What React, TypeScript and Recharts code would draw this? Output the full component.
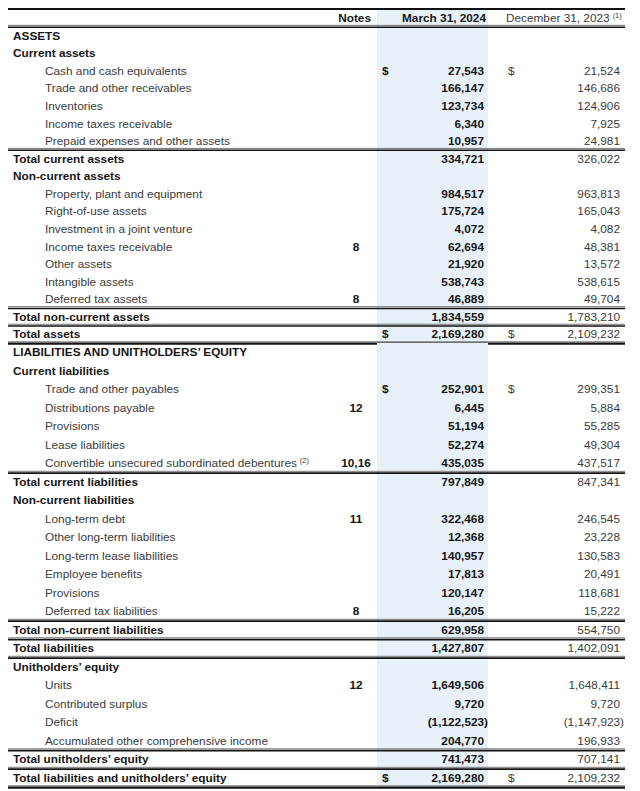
import { ComposedChart, XAxis, YAxis, Bar, ReferenceArea } from "recharts";

// ---- table content ----
const rowLabels = [
  "",
  "ASSETS",
  "Current assets",
  "Cash and cash equivalents",
  "Trade and other receivables",
  "Inventories",
  "Income taxes receivable",
  "Prepaid expenses and other assets",
  "Total current assets",
  "Non-current assets",
  "Property, plant and equipment",
  "Right-of-use assets",
  "Investment in a joint venture",
  "Income taxes receivable",
  "Other assets",
  "Intangible assets",
  "Deferred tax assets",
  "Total non-current assets",
  "Total assets",
  "LIABILITIES AND UNITHOLDERS’ EQUITY",
  "Current liabilities",
  "Trade and other payables",
  "Distributions payable",
  "Provisions",
  "Lease liabilities",
  "Convertible unsecured subordinated debentures",
  "Total current liabilities",
  "Non-current liabilities",
  "Long-term debt",
  "Other long-term liabilities",
  "Long-term lease liabilities",
  "Employee benefits",
  "Provisions",
  "Deferred tax liabilities",
  "Total non-current liabilities",
  "Total liabilities",
  "Unitholders’ equity",
  "Units",
  "Contributed surplus",
  "Deficit",
  "Accumulated other comprehensive income",
  "Total unitholders’ equity",
  "Total liabilities and unitholders’ equity",
];

const rowKinds = [
  "head", "section", "group", "item", "item", "item", "item", "item", "total",
  "group", "item", "item", "item", "item", "item", "item", "item", "total", "total",
  "section", "group", "item", "item", "item", "item", "item", "total",
  "group", "item", "item", "item", "item", "item", "item", "total", "total",
  "group", "item", "item", "item", "item", "total", "total",
];

const noteRefs = [
  "Notes", "", "", "", "", "", "", "", "",
  "", "", "", "", "8", "", "", "8", "", "",
  "", "", "", "12", "", "", "10,16", "",
  "", "11", "", "", "", "", "8", "", "",
  "", "12", "", "", "", "", "",
];

const march2024 = [
  null, null, null, 27543, 166147, 123734, 6340, 10957, 334721,
  null, 984517, 175724, 4072, 62694, 21920, 538743, 46889, 1834559, 2169280,
  null, null, 252901, 6445, 51194, 52274, 435035, 797849,
  null, 322468, 12368, 140957, 17813, 120147, 16205, 629958, 1427807,
  null, 1649506, 9720, -1122523, 204770, 741473, 2169280,
];

const dec2023 = [
  null, null, null, 21524, 146686, 124906, 7925, 24981, 326022,
  null, 963813, 165043, 4082, 48381, 13572, 538615, 49704, 1783210, 2109232,
  null, null, 299351, 5884, 55285, 49304, 437517, 847341,
  null, 246545, 23228, 130583, 20491, 118681, 15222, 554750, 1402091,
  null, 1648411, 9720, -1147923, 196933, 707141, 2109232,
];

const dollarRows = [3, 18, 21, 42];
const labelFootnotes: Record<number, string> = { 25: "(2)" };
const headMarch = "March 31, 2024";
const headDec = "December 31, 2023";
const headDecFootnote = "(1)";

const rulesBelow = [0, 7, 16, 17, 18, 25, 33, 34, 35, 40, 41, 42];
const heavyRules = [18, 42];

// ---- layout ----
const W = 640;
const FONT = "'Liberation Sans', Arial, sans-serif";
const FS = 11.8;
const COL = {
  left: 8,
  right: 625,
  section: 13,
  item: 45,
  notes: 356,
  shadeL: 377,
  shadeR: 488,
  usd1: 382,
  mar: 484,
  usd2: 508,
  dec: 620,
};
const BOLD = "#161616";
const REG = "#3b3b3b";

const fmt = (v: number) =>
  v < 0 ? `(${Math.abs(v).toLocaleString("en-US")})` : v.toLocaleString("en-US");

function Rule({ y, heavy }: { y: number; heavy?: boolean }) {
  return (
    <g>
      <line x1={COL.left} x2={COL.right} y1={y - 1.2} y2={y - 1.2} stroke="#777" strokeWidth={1} />
      <line
        x1={COL.left}
        x2={COL.right}
        y1={y + 0.6}
        y2={y + 0.6}
        stroke="#111"
        strokeWidth={heavy ? 2.4 : 1.6}
      />
    </g>
  );
}

function makeTick(band: number) {
  return (props: any) => {
    const { y, payload } = props;
    const i = Number(String(payload.value).slice(1));
    const kind = rowKinds[i];
    const ty = y;
    const bottom = y + band / 2;
    const dy = "0.36em";
    const bold = kind !== "item";
    const mv = march2024[i];
    const dv = dec2023[i];

    if (kind === "head") {
      return (
        <g fontFamily={FONT} fontSize={FS}>
          <line x1={COL.left} x2={COL.right} y1={y - band / 2} y2={y - band / 2} stroke="#111" strokeWidth={2.2} />
          <text x={COL.notes + 15} y={ty} dy={dy} textAnchor="end" fontWeight="bold" fill={BOLD}>
            {noteRefs[i]}
          </text>
          <text x={COL.mar + 2} y={ty} dy={dy} textAnchor="end" fontWeight="bold" fill={BOLD}>
            {headMarch}
          </text>
          <text x={COL.usd2 - 2} y={ty} dy={dy} fill={REG}>
            {headDec}
            <tspan dx={3} dy={-4} fontSize={7.5}>
              {headDecFootnote}
            </tspan>
          </text>
          <Rule y={bottom} />
        </g>
      );
    }

    return (
      <g fontFamily={FONT} fontSize={FS}>
        <text
          x={kind === "item" ? COL.item : COL.section}
          y={ty}
          dy={dy}
          fontWeight={bold ? "bold" : "normal"}
          fill={bold ? BOLD : REG}
        >
          {rowLabels[i]}
          {labelFootnotes[i] ? (
            <tspan dx={3} dy={-4} fontSize={7.5}>
              {labelFootnotes[i]}
            </tspan>
          ) : null}
        </text>
        {noteRefs[i] ? (
          <text x={COL.notes} y={ty} dy={dy} textAnchor="middle" fontWeight="bold" fill={BOLD}>
            {noteRefs[i]}
          </text>
        ) : null}
        {dollarRows.includes(i) ? (
          <>
            <text x={COL.usd1} y={ty} dy={dy} fontWeight="bold" fill={BOLD}>
              $
            </text>
            <text x={COL.usd2} y={ty} dy={dy} fill={REG}>
              $
            </text>
          </>
        ) : null}
        {mv != null ? (
          <text x={mv < 0 ? COL.mar + 4 : COL.mar} y={ty} dy={dy} textAnchor="end" fontWeight="bold" fill={BOLD}>
            {fmt(mv)}
          </text>
        ) : null}
        {dv != null ? (
          <text x={dv < 0 ? COL.dec + 4 : COL.dec} y={ty} dy={dy} textAnchor="end" fill={REG}>
            {fmt(dv)}
          </text>
        ) : null}
        {rulesBelow.includes(i) ? <Rule y={bottom} heavy={heavyRules.includes(i)} /> : null}
      </g>
    );
  };
}

function TablePart({ from, to, top, plotTop, plotBottom }: { from: number; to: number; top: number; plotTop: number; plotBottom: number }) {
  const data = [];
  for (let i = from; i <= to; i++) data.push({ id: `r${i}`, pad: 1 });
  const mTop = plotTop - top;
  const mBottom = 4;
  const height = plotBottom - plotTop + mTop + mBottom;
  const band = (plotBottom - plotTop) / data.length;
  return (
    <div style={{ position: "absolute", left: 0, top, width: W, height }}>
      <ComposedChart
        width={W}
        height={height}
        data={data}
        layout="vertical"
        margin={{ top: mTop, right: 0, bottom: mBottom, left: -2 }}
      >
        <ReferenceArea x1={COL.shadeL} x2={COL.shadeR} fill="#e8f1f8" fillOpacity={1} stroke="none" />
        <XAxis type="number" domain={[0, W]} hide allowDataOverflow />
        <YAxis
          type="category"
          dataKey="id"
          width={2}
          axisLine={false}
          tickLine={false}
          interval={0}
          tick={makeTick(band)}
        />
        <Bar dataKey="pad" fill="none" isAnimationActive={false} />
      </ComposedChart>
    </div>
  );
}

export default function App() {
  return (
    <div
      style={{
        position: "fixed",
        left: 0,
        top: 0,
        width: W,
        height: 791,
        overflow: "hidden",
        background: "#fff",
      }}
    >
      <TablePart from={0} to={18} top={5} plotTop={9} plotBottom={343} />
      <TablePart from={19} to={42} top={339} plotTop={343} plotBottom={787} />
    </div>
  );
}
